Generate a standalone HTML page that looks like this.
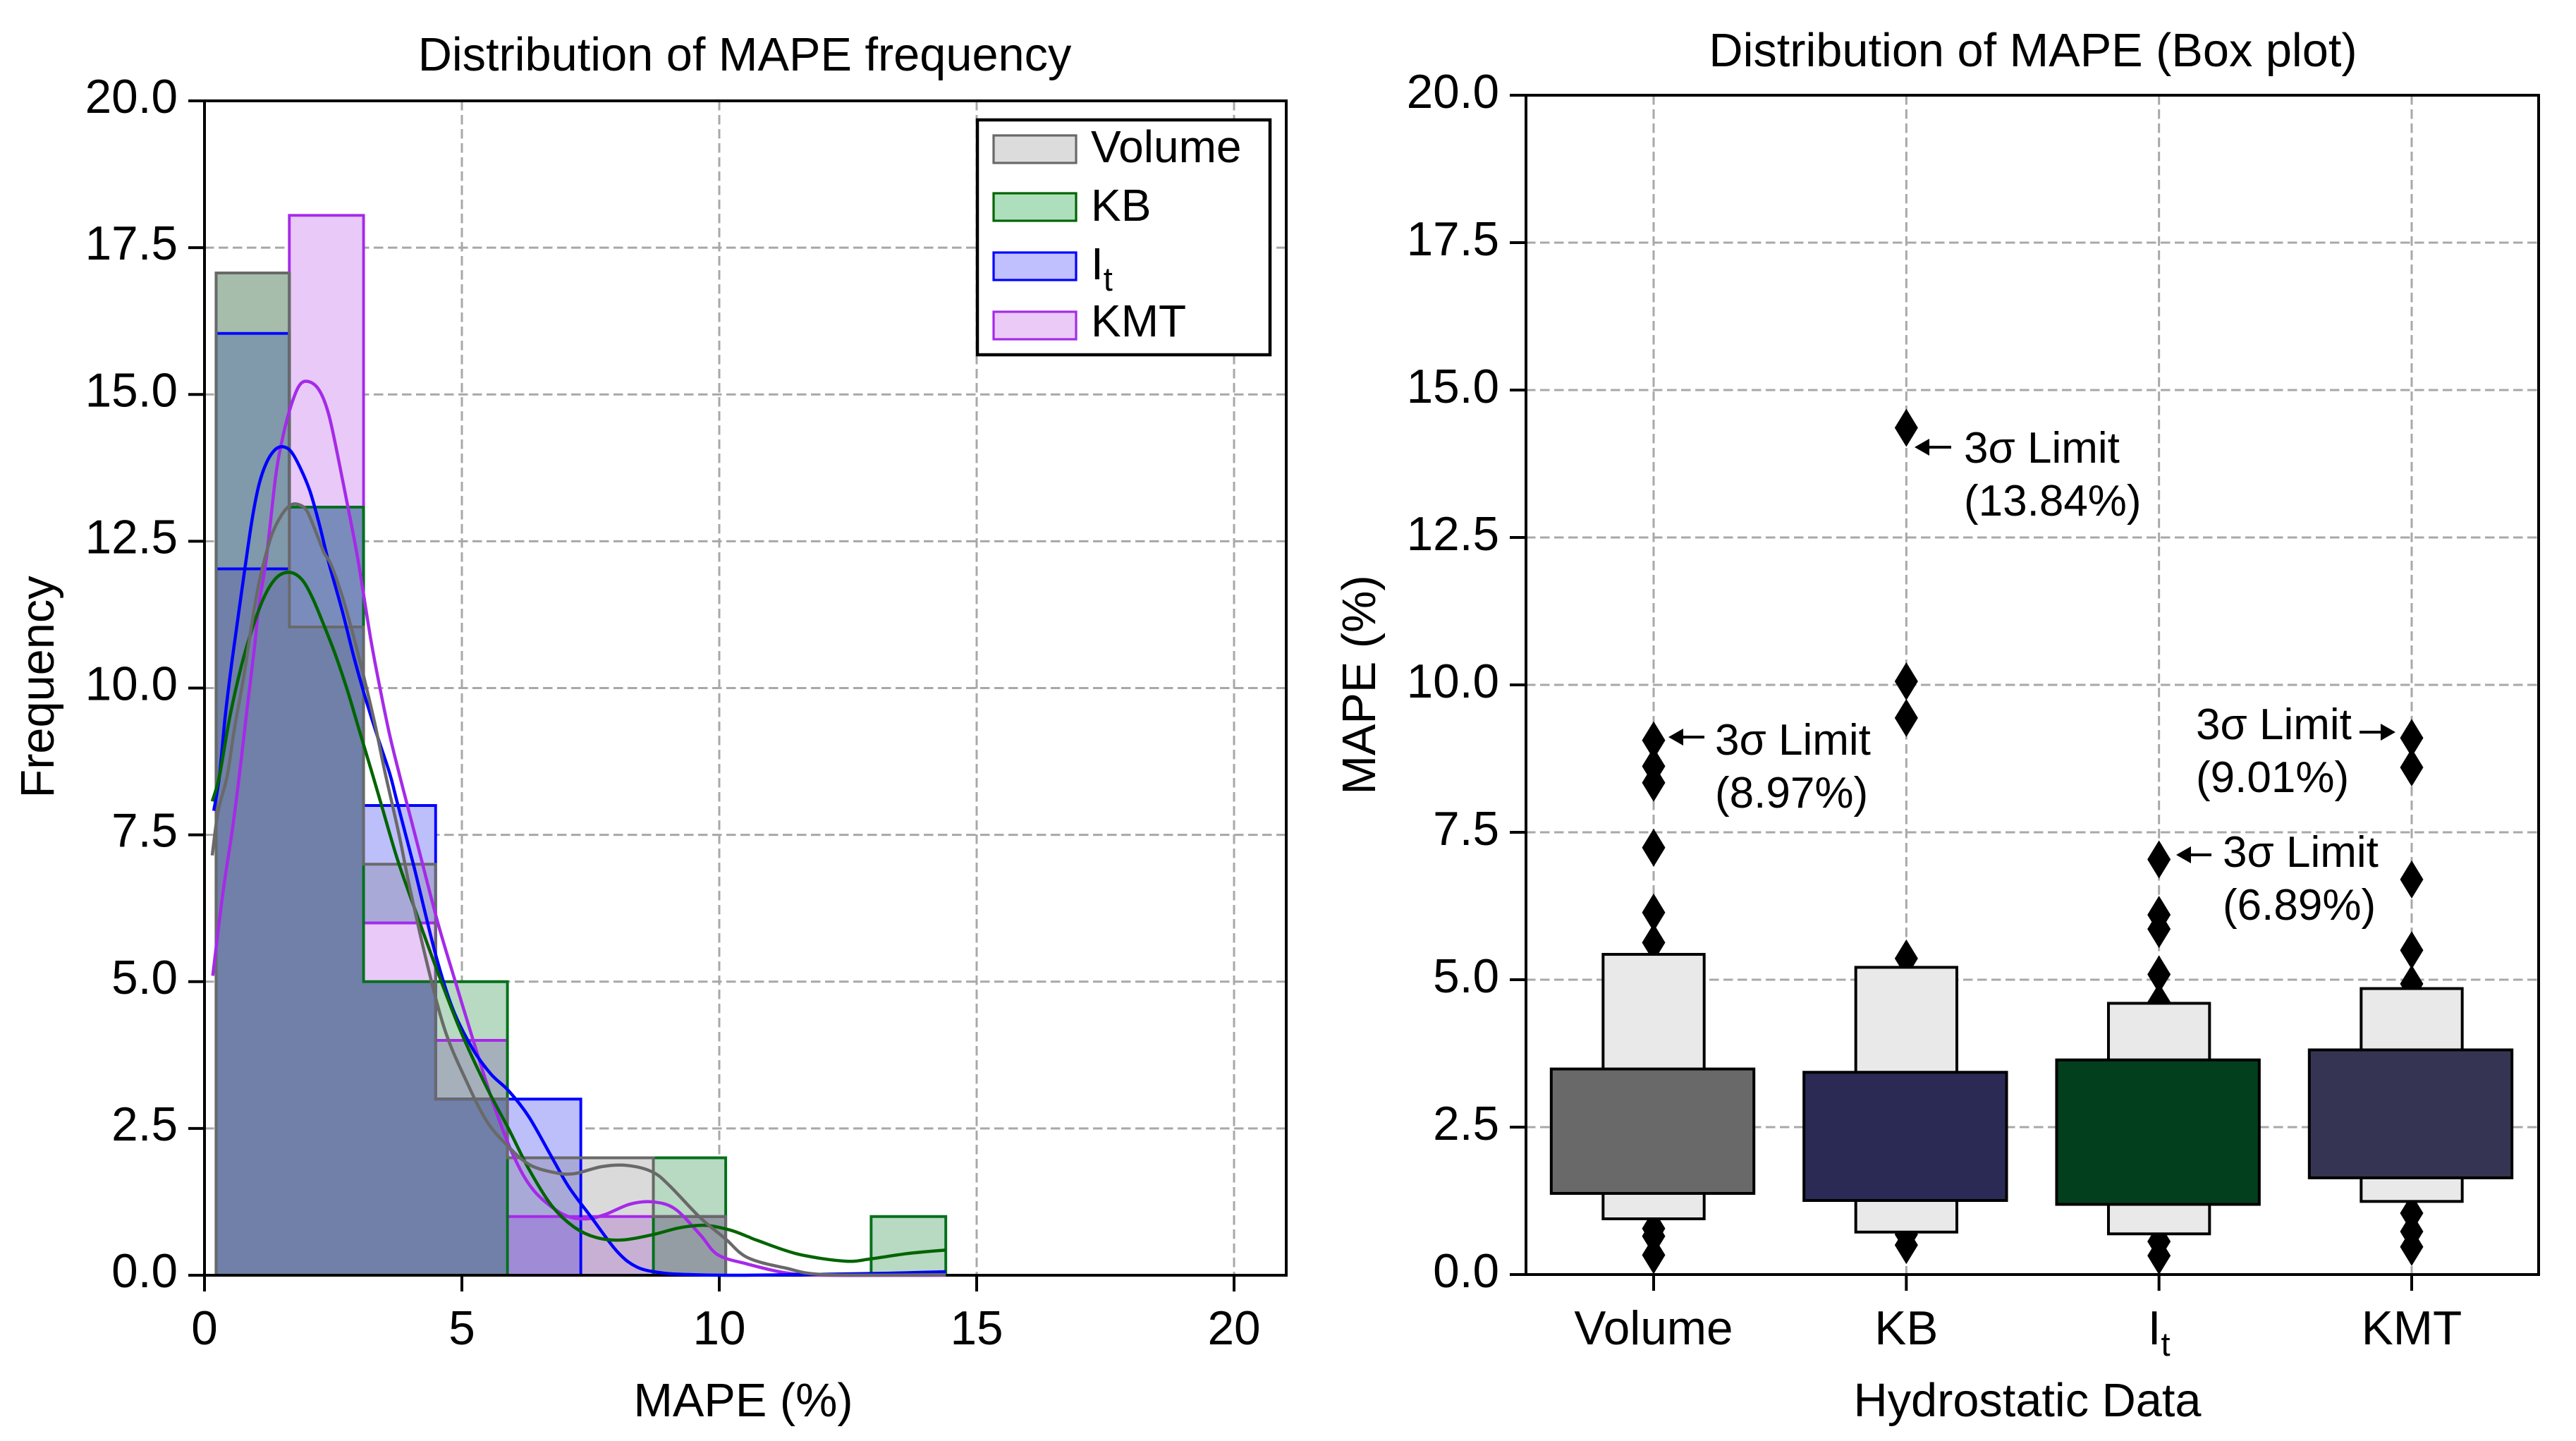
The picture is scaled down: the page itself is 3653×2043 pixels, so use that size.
<!DOCTYPE html>
<html lang="en">
<head>
<meta charset="utf-8">
<title>Distribution of MAPE</title>
<style>
  html, body { margin: 0; padding: 0; background: #fff; }
  svg { display: block; }
  text { font-family: "Liberation Sans", Arial, sans-serif; fill: #000; }
</style>
</head>
<body>
<svg id="figure" xmlns="http://www.w3.org/2000/svg" width="3653" height="2043" viewBox="0 0 3653 2043">
  <rect x="0" y="0" width="3653" height="2043" fill="#ffffff"/>

  <g id="hist-axes"></g>
  <g id="box-axes"></g>

  <text x="1056" y="100" font-size="66.7" text-anchor="middle">Distribution of MAPE frequency</text>
  <text x="1054" y="2008" font-size="66.7" text-anchor="middle">MAPE (%)</text>
  <text x="76" y="974" font-size="66.7" text-anchor="middle" transform="rotate(-90 76 974)">Frequency</text>

  <text x="2883" y="94" font-size="66.7" text-anchor="middle">Distribution of MAPE (Box plot)</text>
  <text x="2875" y="2008" font-size="66.7" text-anchor="middle">Hydrostatic Data</text>
  <text x="1950" y="971" font-size="66.7" text-anchor="middle" transform="rotate(-90 1950 971)">MAPE (%)</text>

  <g>
    <rect x="1386" y="170" width="415" height="333" fill="#ffffff" stroke="#000000" stroke-width="4.5"/>
    <g>
      <rect x="1409" y="192" width="117" height="39" fill="#dcdcdc" stroke="#696969" stroke-width="3.2"/>
      <text x="1547" y="230" font-size="64">Volume</text>
    </g>
    <g>
      <rect x="1409" y="274" width="117" height="39" fill="#aedfbd" stroke="#006400" stroke-width="3.2"/>
      <text x="1547" y="313" font-size="64">KB</text>
    </g>
    <g>
      <rect x="1409" y="358" width="117" height="39" fill="#c0c0ff" stroke="#0000ff" stroke-width="3.2"/>
      <text x="1547" y="396" font-size="64">I<tspan dy="16" font-size="47">t</tspan></text>
    </g>
    <g>
      <rect x="1409" y="442" width="117" height="39" fill="#ebcaf7" stroke="#a52ae8" stroke-width="3.2"/>
      <text x="1547" y="477" font-size="64">KMT</text>
    </g>
  </g>
</svg>

<script>
/* ---------- histogram data ---------- */
const binEdges = [0.225, 1.648, 3.09, 4.49, 5.885, 7.31, 8.72, 10.125, 11.53, 12.95, 14.4];
const volumeCounts = [17.07, 11.04, 7, 3, 2, 2, 1, 0, 0, 0];
const kbCounts     = [17.07, 13.08, 5, 5, 0, 0, 2, 0, 0, 1];
const itCounts     = [16.04, 13.08, 8, 3, 3, 0, 0, 0, 0, 0];
const kmtCounts    = [12.03, 18.05, 6, 4, 1, 1, 1, 0, 0, 0];

/* ---------- density curve data ---------- */
const volumeKdeX = [0.15,0.265,0.44,0.58,0.77,0.9,1.04,1.155,1.315,1.5,1.66,1.81,1.98,2.14,2.32,2.46,2.68,2.91,3.12,3.32,3.5,3.78,4.0,4.34,4.68,5.08,5.47,5.86,6.3,6.79,7.18,7.72,8.21,8.7,9.04,9.63,10.12,10.55,11.3,12.08,14.4];
const volumeKdeY = [7.15,7.9,8.5,9.3,10.23,10.99,11.71,12.15,12.63,12.95,13.11,13.13,13.03,12.71,12.31,12.1,11.55,10.83,10.1,9.35,8.59,7.5,6.55,5.25,4.15,3.32,2.64,2.23,1.89,1.75,1.73,1.85,1.87,1.76,1.52,0.98,0.62,0.3,0.12,0.01,0.01];
const kbKdeX = [0.15,0.29,0.49,0.72,0.95,1.18,1.41,1.66,1.89,2.09,2.32,2.55,2.78,3.0,3.26,3.44,3.76,4.15,4.54,4.98,5.47,5.91,6.3,6.74,7.18,7.62,8.11,8.7,9.24,9.73,10.21,10.55,10.75,11.53,12.44,12.95,13.66,14.4];
const kbKdeY = [8.07,8.5,9.5,10.39,11.07,11.59,11.89,11.97,11.85,11.55,11.07,10.55,9.95,9.3,8.54,8.0,7.05,6.08,5.14,4.15,3.22,2.49,1.81,1.19,0.82,0.64,0.6,0.69,0.81,0.85,0.77,0.66,0.59,0.36,0.24,0.28,0.37,0.43];
const itKdeX = [0.18,0.29,0.4,0.54,0.675,0.79,0.93,1.06,1.2,1.36,1.52,1.68,1.86,2.05,2.23,2.41,2.68,2.91,3.14,3.37,3.6,3.73,4.06,4.49,4.83,5.22,5.57,5.91,6.3,6.74,7.08,7.52,8.01,8.4,8.89,9.48,10.5,13.0,14.4];
const itKdeY = [7.91,8.5,9.5,10.5,11.35,12.07,12.9,13.47,13.83,14.05,14.11,14.03,13.75,13.35,12.79,12.15,11.3,10.5,9.79,9.15,8.54,8.1,6.99,5.46,4.52,3.84,3.42,3.14,2.7,2.02,1.5,0.98,0.41,0.14,0.04,0.01,0.0,0.03,0.06];
const kmtKdeX = [0.16,0.356,0.54,0.675,0.836,0.973,1.06,1.2,1.38,1.5,1.66,1.84,2.02,2.23,2.41,2.59,2.78,2.98,3.23,3.42,3.6,3.8,4.01,4.19,4.54,4.88,5.22,5.62,6.01,6.4,6.94,7.38,7.77,8.26,8.7,9.14,9.63,9.97,10.55,11.3,12.08,14.4];
const kmtKdeY = [5.10,6.5,7.58,8.5,9.71,10.71,11.43,12.2,13.59,14.19,14.75,15.15,15.22,15.07,14.67,13.95,13.11,12.19,10.83,9.95,9.19,8.48,7.77,7.16,5.98,4.98,4.0,2.9,2.02,1.44,1.05,0.96,1.03,1.21,1.25,1.13,0.69,0.35,0.19,0.04,0.0,0.0];

/* ---------- axis ticks ---------- */
const histXTicks = [0, 5, 10, 15, 20];
const freqTicks = [0, 2.5, 5, 7.5, 10, 12.5, 15, 17.5, 20];
const boxYTicks = [0, 2.5, 5, 7.5, 10, 12.5, 15, 17.5, 20];

/* ---------- letter-value plot data ---------- */
const boxCategories = ['Volume', 'KB', 'It', 'KMT'];
const innerLow  = [1.376, 1.256, 1.19, 1.64];
const innerHigh = [3.486, 3.43, 3.64, 3.81];
const outerLow  = [0.945, 0.72, 0.69, 1.24];
const outerHigh = [5.43, 5.21, 4.6, 4.85];
const volumeOutliers = [9.06, 8.62, 8.34, 7.24, 6.14, 5.63, 0.78, 0.65, 0.33];
const kbOutliers = [14.36, 10.06, 9.44, 5.36, 0.68, 0.5];
const itOutliers = [7.04, 6.1, 5.86, 5.09, 4.62, 0.56, 0.32];
const kmtOutliers = [9.1, 8.6, 6.7, 5.5, 4.93, 1.04, 0.73, 0.47];

const NS = 'http://www.w3.org/2000/svg';
const histRoot = document.getElementById('hist-axes');
const boxRoot = document.getElementById('box-axes');

function make(tag, attrs, parent) {
  const el = document.createElementNS(NS, tag);
  for (const k in attrs) el.setAttribute(k, attrs[k]);
  parent.appendChild(el);
  return el;
}

/* axis functions */
const HX0 = 290, HXU = 73, HY0 = 1808, HYU = 83.25, HRIGHT = 1824, HTOP = 143;
const BX0 = 2345, BXU = 358.33, BY0 = 1807, BYU = 83.6, BLEFT = 2164, BRIGHT = 3600, BTOP = 135;
const xHist = v => HX0 + HXU * v;
const yHist = v => HY0 - HYU * v;
const xBox = i => BX0 + BXU * i;
const yBox = v => BY0 - BYU * v;

const GRID = { stroke: '#a8a8a8', 'stroke-width': 3, 'stroke-dasharray': '13.5 6.5', fill: 'none' };
const EDGE_W = 3.9, CURVE_W = 4.5, FRAME_W = 4, TICK_W = 4;

/* ---------- histogram: grid ---------- */
histXTicks.forEach(t => {
  const el = make('line', Object.assign({ x1: xHist(t), x2: xHist(t), y1: HTOP, y2: HY0 }, GRID), histRoot);
  
  
});
freqTicks.forEach(t => {
  const el = make('line', Object.assign({ x1: HX0, x2: HRIGHT, y1: yHist(t), y2: yHist(t) }, GRID), histRoot);
  
  
});

/* ---------- histogram: fills ---------- */
const seriesList = [
  { key: 'K', name: 'kmt', counts: kmtCounts, edge: '#a52ae8', line: '#a52ae8', kx: kmtKdeX, ky: kmtKdeY },
  { key: 'I', name: 'it', counts: itCounts, edge: '#0000ff', line: '#0000ff', kx: itKdeX, ky: itKdeY },
  { key: 'B', name: 'kb', counts: kbCounts, edge: '#00701a', line: '#006400', kx: kbKdeX, ky: kbKdeY },
  { key: 'V', name: 'volume', counts: volumeCounts, edge: '#696969', line: '#696969', kx: volumeKdeX, ky: volumeKdeY }
];
const fillPalette = {
  V: '#dadada', B: '#b8d9c2', I: '#bdbffb', K: '#e8c9f7',
  BV: '#a5bdaa', BIV: '#8099ab', BIK: '#7a8cbb', IV: '#a9a9d8',
  BK: '#a5b0bb', IKV: '#a08bd6', KV: '#c8b0d5', BKV: '#959da4',
  BIKV: '#7080a8', BI: '#8f9fd0', IK: '#a9a0ee'
};
function fillFor(members, bin) {
  let key = members.slice().sort().join('');
  if (bin === 2 && key === 'IKV') key = 'K';
  return fillPalette[key] || '#8c8cb0';
}
const binCount = binEdges.length - 1;
const floorHeights = [];
for (let b = 0; b < binCount; b++) {
  const heights = seriesList.map(s => s.counts[b]);
  floorHeights.push(Math.min.apply(null, heights));
  const stops = Array.from(new Set([0].concat(heights))).sort((a, c) => a - c);
  for (let i = 0; i + 1 < stops.length; i++) {
    const lo = stops[i], hi = stops[i + 1];
    const members = seriesList.filter(s => s.counts[b] >= hi).map(s => s.key);
    const el = make('rect', {
      x: xHist(binEdges[b]), width: xHist(binEdges[b + 1]) - xHist(binEdges[b]),
      y: yHist(hi), height: yHist(lo) - yHist(hi), fill: fillFor(members, b)
    }, histRoot);
    
    
  }
}

/* ---------- histogram: step outlines ---------- */
seriesList.forEach(s => {
  let d = 'M' + xHist(binEdges[0]) + ' ' + yHist(0);
  for (let b = 0; b < binCount; b++) {
    d += 'L' + xHist(binEdges[b]) + ' ' + yHist(s.counts[b]);
    d += 'L' + xHist(binEdges[b + 1]) + ' ' + yHist(s.counts[b]);
  }
  d += 'L' + xHist(binEdges[binCount]) + ' ' + yHist(0);
  const el = make('path', { d: d, fill: 'none', stroke: s.edge, 'stroke-width': EDGE_W, 'stroke-linejoin': 'miter' }, histRoot);
  
  
  if (s.name === 'kmt') {
    const tint = make('line', {
      x1: xHist(binEdges[0]), x2: xHist(binEdges[1]), y1: yHist(s.counts[0]), y2: yHist(s.counts[0]),
      stroke: '#0000ff', 'stroke-width': EDGE_W
    }, histRoot);
    
    
  }
});

/* ---------- histogram: shared-overlap region sits over the outlines ---------- */
const INSET = 2;
for (let b = 0; b < binCount; b++) {
  if (floorHeights[b] <= 0) continue;
  const el = make('rect', {
    x: xHist(binEdges[b]) + INSET, width: xHist(binEdges[b + 1]) - xHist(binEdges[b]) - 2 * INSET,
    y: yHist(floorHeights[b]) + INSET, height: yHist(0) - yHist(floorHeights[b]) - INSET, fill: fillPalette.BIKV
  }, histRoot);
  
  
  if (b + 1 < binCount && floorHeights[b + 1] > 0) {
    const shared = Math.min(floorHeights[b], floorHeights[b + 1]);
    const seam = make('rect', {
      x: xHist(binEdges[b + 1]) - INSET - 0.5, width: 2 * INSET + 1,
      y: yHist(shared) + INSET, height: yHist(0) - yHist(shared) - INSET, fill: fillPalette.BIKV
    }, histRoot);
    
    
  }
}

/* ---------- shared helpers for spines, ticks ---------- */
function drawFrame(root, x0, x1, y0, y1, label) {
  const el = make('rect', { x: x0, y: y1, width: x1 - x0, height: y0 - y1, fill: 'none', stroke: '#000', 'stroke-width': FRAME_W }, root);
  
  
}

/* ---------- histogram: frame + ticks ---------- */
drawFrame(histRoot, HX0, HRIGHT, HY0, HTOP, 'histogram');
freqTicks.forEach(t => {
  const mark = make('line', { x1: HX0 - 23, x2: HX0, y1: yHist(t), y2: yHist(t), stroke: '#000', 'stroke-width': TICK_W }, histRoot);
  
  
  const lab = make('text', { x: HX0 - 38, y: yHist(t) + 17, 'font-size': 67.5, 'text-anchor': 'end' }, histRoot);
  
  
  lab.textContent = t.toFixed(1);
});
histXTicks.forEach(t => {
  const mark = make('line', { x1: xHist(t), x2: xHist(t), y1: HY0, y2: HY0 + 23, stroke: '#000', 'stroke-width': TICK_W }, histRoot);
  
  
  const lab = make('text', { x: xHist(t), y: 1906, 'font-size': 67.5, 'text-anchor': 'middle' }, histRoot);
  
  
  lab.textContent = String(t);
});

/* ---------- histogram: density curves ---------- */
function smoothPath(xs, ys) {
  const p = xs.map((x, i) => [xHist(x), yHist(ys[i])]);
  let d = 'M' + p[0][0].toFixed(2) + ' ' + p[0][1].toFixed(2);
  for (let i = 0; i + 1 < p.length; i++) {
    const a = p[Math.max(0, i - 1)], b = p[i], c = p[i + 1], e = p[Math.min(p.length - 1, i + 2)];
    d += 'C' + (b[0] + (c[0] - a[0]) / 6).toFixed(2) + ' ' + (b[1] + (c[1] - a[1]) / 6).toFixed(2) + ' ' +
         (c[0] - (e[0] - b[0]) / 6).toFixed(2) + ' ' + (c[1] - (e[1] - b[1]) / 6).toFixed(2) + ' ' +
         c[0].toFixed(2) + ' ' + c[1].toFixed(2);
  }
  return d;
}
seriesList.forEach(s => {
  const el = make('path', { d: smoothPath(s.kx, s.ky), fill: 'none', stroke: s.line, 'stroke-width': CURVE_W, 'stroke-linejoin': 'round' }, histRoot);
  
  
});

/* ---------- boxplot: grid ---------- */
boxCategories.forEach((c, i) => {
  const el = make('line', Object.assign({ x1: xBox(i), x2: xBox(i), y1: BTOP, y2: BY0 }, GRID), boxRoot);
  
  
});
boxYTicks.forEach(t => {
  const el = make('line', Object.assign({ x1: BLEFT, x2: BRIGHT, y1: yBox(t), y2: yBox(t) }, GRID), boxRoot);
  
  
});

/* ---------- boxplot: outliers ---------- */
const outlierSets = [volumeOutliers, kbOutliers, itOutliers, kmtOutliers];
outlierSets.forEach((set, i) => {
  set.forEach(v => {
    const cx = xBox(i), cy = yBox(v), hw = 16.5, hh = 27;
    const el = make('polygon', {
      points: cx + ',' + (cy - hh) + ' ' + (cx + hw) + ',' + cy + ' ' + cx + ',' + (cy + hh) + ' ' + (cx - hw) + ',' + cy,
      fill: '#000'
    }, boxRoot);
    
    
  });
});

/* ---------- boxplot: letter-value boxes ---------- */
const innerColors = ['#696969', '#2a2a55', '#023f1d', '#353553'];
const OUTER_W = 0.4, INNER_W = 0.802;
boxCategories.forEach((c, i) => {
  const outerEl = make('rect', {
    x: xBox(i) - OUTER_W * BXU / 2, width: OUTER_W * BXU,
    y: yBox(outerHigh[i]), height: yBox(outerLow[i]) - yBox(outerHigh[i]),
    fill: '#e9e9e9', stroke: '#000', 'stroke-width': FRAME_W
  }, boxRoot);
  
  
  const innerEl = make('rect', {
    x: xBox(i) - INNER_W * BXU / 2 - 1.5, width: INNER_W * BXU,
    y: yBox(innerHigh[i]), height: yBox(innerLow[i]) - yBox(innerHigh[i]),
    fill: innerColors[i], stroke: '#000', 'stroke-width': FRAME_W
  }, boxRoot);
  
  
});

/* ---------- boxplot: frame + ticks ---------- */
drawFrame(boxRoot, BLEFT, BRIGHT, BY0, BTOP, 'boxplot');
boxYTicks.forEach(t => {
  const mark = make('line', { x1: BLEFT - 23, x2: BLEFT, y1: yBox(t), y2: yBox(t), stroke: '#000', 'stroke-width': TICK_W }, boxRoot);
  
  
  const lab = make('text', { x: BLEFT - 38, y: yBox(t) + 18, 'font-size': 67.5, 'text-anchor': 'end' }, boxRoot);
  
  
  lab.textContent = t.toFixed(1);
});
boxCategories.forEach((c, i) => {
  const mark = make('line', { x1: xBox(i), x2: xBox(i), y1: BY0, y2: BY0 + 23, stroke: '#000', 'stroke-width': TICK_W }, boxRoot);
  
  
  const lab = make('text', { x: xBox(i), y: 1906, 'font-size': 67.5, 'text-anchor': 'middle' }, boxRoot);
  
  
  if (c === 'It') {
    lab.textContent = 'I';
    const sub = make('tspan', { dy: 16, 'font-size': 47 }, lab);
    sub.textContent = 't';
  } else {
    lab.textContent = c;
  }
});

/* ---------- boxplot: sigma-limit annotations ---------- */
const limitCategory = [0, 1, 2, 3];
const limitValues = ['(8.97%)', '(13.84%)', '(6.89%)', '(9.01%)'];
const limitTextX = [2432, 2785, 3152, 3114];
const limitTextY = [1070, 656, 1229, 1048];
const limitArrowFrom = [2417, 2767, 3136, 3346];
const limitArrowTo = [2366, 2715, 3086, 3397];
const limitArrowY = [1045, 634, 1212, 1038];
limitCategory.forEach((cat, i) => {
  const group = make('g', {}, boxRoot);
  
  
  const t1 = make('text', { x: limitTextX[i], y: limitTextY[i], 'font-size': 62 }, group);
  
  
  t1.textContent = '3\u03c3 Limit';
  const t2 = make('text', { x: limitTextX[i], y: limitTextY[i] + 75, 'font-size': 62 }, group);
  
  
  t2.textContent = limitValues[i];
  const dir = limitArrowTo[i] > limitArrowFrom[i] ? 1 : -1;
  const tip = limitArrowTo[i], y = limitArrowY[i], neck = tip - dir * 21;
  const shaft = make('line', { x1: limitArrowFrom[i], x2: neck, y1: y, y2: y, stroke: '#000', 'stroke-width': TICK_W }, group);
  
  
  const head = make('polygon', { points: tip + ',' + y + ' ' + neck + ',' + (y - 12) + ' ' + neck + ',' + (y + 12), fill: '#000' }, group);
  
  
});
</script>
</body>
</html>
